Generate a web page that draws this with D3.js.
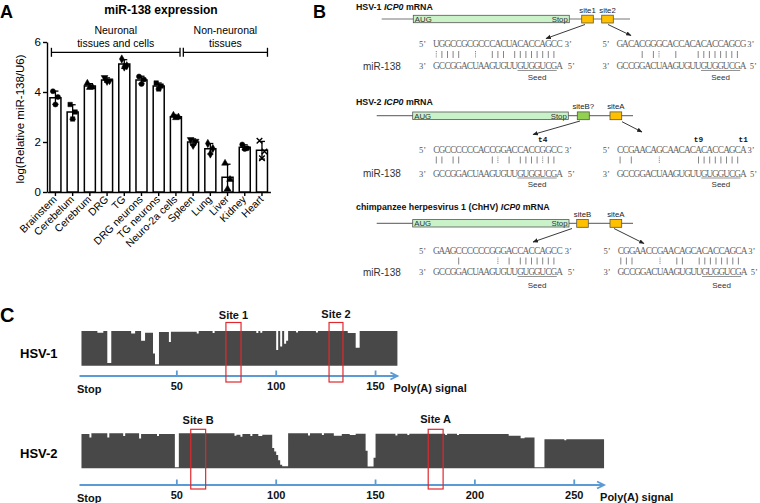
<!DOCTYPE html>
<html><head><meta charset="utf-8">
<script src="https://cdn.jsdelivr.net/npm/d3@7"></script>
<style>body{margin:0;background:#fff}svg{display:block}</style>
</head><body>
<script>
// ---------- Panel A data ----------
const tissues = ["Brainstem","Cerebelum","Cerebrum","DRG","TG","DRG neurons","TG neurons","Neuro-2a cells","Spleen","Lung","Liver","Kidney","Heart"];
const meanExpr = [3.77,3.2,4.24,4.48,5.12,4.48,4.24,3.01,2.0,1.73,0.59,1.79,1.67];
const replicates = [[4.03,3.8,3.5],[3.5,3.2,2.92],[4.35,4.2,4.18],[4.58,4.45,4.42],[5.32,5.05,5.0],[4.62,4.5,4.32],[4.36,4.24,4.12],[3.07,3.0,2.97],[2.1,2.03,1.86],[1.94,1.74,1.52],[1.15,0.5,0.12],[1.9,1.75,1.72],[2.05,1.62,1.35]];
const yTicksA = [0,2,4,6];
const groupLabels = [["Neuronal","tissues and cells"],["Non-neuronal","tissues"]];
const groupSpans = [["Brainstem","Neuro-2a cells"],["Spleen","Heart"]];

// ---------- Panel B data ----------
const transcripts = ["HSV-1","HSV-2","chimpanzee herpesvirus 1 (ChHV)"];
const siteNames = [["site1","site2"],["siteB?","siteA"],["siteB","siteA"]];
const mir138 = "GCCGGACUAAGUGUUGUGGUCGA";
const seedIdx = [15,21];
const targetSeqs = [
  ["UGGCCGCGCCCACUACACCAGCC","GACACGGGCACCACACACCAGCG"],
  ["CGCCCCCCACCGGACCACCGGCC","CCGAACAGCAACACACACCAGCA"],
  ["GAAGCCCCCCGGGACCACCAGCC","CGGAACCGAACAGCACACCAGCA"]
];
const pairings = [
  [":||||  :  ||| |||||||| ","    | |:  |   |||||||| "],
  ["|| ||     |: | ||||:|| ","| |    :      |||||||| "],
  ["    |      : | ||||||| ","|||    :  ||  |||||||| "]
];
const tLabels = [[],[[["t4",19]],[["t9",14],["t1",22]]],[]];

// ---------- Panel C data ----------
const hsv1Length = 161, hsv2Length = 265;
const hsv1Ticks = [50,100,150], hsv2Ticks = [50,100,150,200,250];
const hsv1Sites = ["Site 1","Site 2"], hsv1SiteWin = [[74.7,82.3],[126.6,133.6]];
const hsv2Sites = ["Site B","Site A"], hsv2SiteWin = [[57,64.5],[176.5,184]];
const hsv1Coverage = [[2,10,1],[10,13,0.95],[13,15,1],[15,17,0.08],[17,27,1],[27,29,0.93],[29,32,1],[32,34,0.72],[34,38,0.95],[38,39,0.35],[39,41,0.04],[41,46,0.97],[46,47,0.68],[47,60,0.98],[60,61,0.93],[61,68,1],[68,69,0.94],[69,90,1],[90,91,0.94],[91,92,1],[92,93,0.95],[93,100,1],[100,101,0.45],[101,102,1],[102,103,0.55],[103,104,1],[104,105,0.63],[105,106,0.72],[106,110,1],[110,111,0.96],[111,120,1],[120,121,0.96],[121,136,1],[136,140,0.94],[140,142,0.52],[142,161,1]];
const hsv2Coverage = [[2,6,0.98],[6,7,0.88],[7,15,1],[15,16,0.88],[16,23,1],[23,24,0.92],[24,31,1],[31,32,0.85],[32,40,0.98],[40,41,0.92],[41,49,0.98],[49,51,0.03],[51,79,1],[79,80,0.93],[80,82,0.96],[82,83,0.9],[83,87,0.98],[87,88,0.92],[88,91,0.98],[91,93,0.92],[93,98,0.96],[98,99,0.58],[99,100,0.48],[100,101,0.38],[101,102,0.23],[102,103,0.1],[103,106,0.06],[106,116,1],[116,117,0.94],[117,123,1],[123,124,0.95],[124,129,1],[129,133,0.93],[133,137,0.98],[137,140,0.95],[140,145,0.99],[145,146,0.5],[146,149,0.05],[149,150,0.3],[150,160,0.99],[160,161,0.94],[161,166,0.99],[166,167,0.95],[167,185,0.99],[185,186,0.95],[186,191,0.99],[191,192,0.95],[192,217,0.98],[217,223,0.93],[223,225,0.86],[225,230,0.88],[230,235,0.03],[235,245,0.83],[245,246,0.8],[246,265,0.83]];

// ================= drawing =================
const W=760,H=503;
const SANS="'Liberation Sans',Arial,sans-serif";
const svg=d3.select("body").append("svg").attr("width",W).attr("height",H).style("font-family",SANS);
svg.append("rect").attr("width",W).attr("height",H).attr("fill","#fff");

[["A",0,18,18],["B",313,18,18],["C",0,322,20]].forEach(([t,x,y,s])=>{
  svg.append("text").attr("x",x).attr("y",y).attr("font-size",s).attr("font-weight","bold").text(t);
});

// ---------- Panel A ----------
const gA=svg.append("g");
const yA=d3.scaleLinear().domain([0,6]).range([192,42]);
const xA=d3.scaleBand().domain(tissues).range([47,270.4]).paddingInner(0.36).paddingOuter(0.17);
const bw=xA.bandwidth();
gA.append("text").attr("x",161).attr("y",14).attr("text-anchor","middle").attr("font-size",12).attr("font-weight","bold").text("miR-138 expression");
gA.append("text").attr("transform","translate(24,119) rotate(-90)").attr("text-anchor","middle").attr("font-size",11.5).text("log(Relative miR-138/U6)");

const yAxis=gA.append("g").attr("transform","translate(47,0)").call(d3.axisLeft(yA).tickValues(yTicksA).tickFormat(d3.format("d")).tickSize(4).tickSizeOuter(0).tickPadding(2));
yAxis.selectAll("path,line").attr("stroke","#000").attr("stroke-width",1.4);
yAxis.selectAll("text").attr("font-size",11.5).attr("font-family",SANS).attr("fill","#000");
const xAxis=gA.append("g").attr("transform","translate(0,192)").call(d3.axisBottom(xA).tickSize(4).tickSizeOuter(0).tickFormat(""));
xAxis.selectAll("path,line").attr("stroke","#000").attr("stroke-width",1.4);
tissues.forEach(t=>{
  gA.append("text").attr("transform",`translate(${xA(t)+bw/2+2},200) rotate(-45)`).attr("text-anchor","end").attr("font-size",10.5).text(t);
});
gA.selectAll("rect.bar").data(tissues).join("rect").attr("class","bar")
  .attr("x",d=>xA(d)).attr("width",bw).attr("y",(d,i)=>yA(meanExpr[i])).attr("height",(d,i)=>yA(0)-yA(meanExpr[i]))
  .attr("fill","#fff").attr("stroke","#000").attr("stroke-width",1.5);
const symTypes=[d3.symbolCircle,d3.symbolSquare,d3.symbolTriangle,"tdown",d3.symbolDiamond,d3.symbolCircle,d3.symbolSquare,d3.symbolTriangle,"tdown",d3.symbolDiamond,d3.symbolTriangle,d3.symbolCircle,d3.symbolTimes];
const jit=[-2.5,2.5,0];
tissues.forEach((t,i)=>{
  const cx=xA(t)+bw/2, vals=replicates[i], m=meanExpr[i], sd=d3.deviation(vals);
  const g=gA.append("g");
  g.append("line").attr("x1",cx).attr("x2",cx).attr("y1",yA(Math.max(0,m-sd))).attr("y2",yA(m+sd)).attr("stroke","#000").attr("stroke-width",1.3);
  [m+sd, m-sd].forEach(v=>{ if(v>0) g.append("line").attr("x1",cx-3).attr("x2",cx+3).attr("y1",yA(v)).attr("y2",yA(v)).attr("stroke","#000").attr("stroke-width",1.3);});
  vals.forEach((v,j)=>{
    const st=symTypes[i];
    const isT=st==="tdown", isX=st===d3.symbolTimes;
    const p=d3.symbol().type(isT?d3.symbolTriangle:st).size(isX?22:20)();
    g.append("path").attr("d",p).attr("transform",`translate(${cx+jit[j]},${yA(v)})${isT?" rotate(180)":""}`)
      .attr("fill",isX?"none":"#000").attr("stroke","#000").attr("stroke-width",isX?1.4:0.5);
  });
});
// group brackets
const brY=52.3;
const b1s=xA(groupSpans[0][0])+1.5, b1e=xA(groupSpans[0][1])+bw-1.4;
const b2s=b1e+3.3, b2e=xA(groupSpans[1][1])+bw;
gA.append("line").attr("x1",b1s).attr("x2",b1e).attr("y1",brY).attr("y2",brY).attr("stroke","#000").attr("stroke-width",1.3);
gA.append("line").attr("x1",b2s).attr("x2",b2e).attr("y1",brY).attr("y2",brY).attr("stroke","#000").attr("stroke-width",1.3);
[b1s,b1e,b2s,b2e].forEach(x=>gA.append("line").attr("x1",x).attr("x2",x).attr("y1",brY-4.5).attr("y2",brY+4.5).attr("stroke","#000").attr("stroke-width",1.3));
[[ (b1s+b1e)/2, groupLabels[0]],[ (b2s+b2e)/2, groupLabels[1]]].forEach(([cx,lab])=>{
  gA.append("text").attr("x",cx).attr("y",34).attr("text-anchor","middle").attr("font-size",10.5).text(lab[0]);
  gA.append("text").attr("x",cx).attr("y",46.5).attr("text-anchor","middle").attr("font-size",10.5).text(lab[1]);
});

// ---------- Panel B ----------
const gB=svg.append("g");
const SERIF="'Liberation Serif','Times New Roman',serif";
const pitch=5.6;
const layouts=[
  {titleY:9.5,lineY:19,lineX:[381.7,630],gene:[413.3,569.3],sites:[[581.7,593.3],[601.7,613.3]],siteCol:["#ffc000","#ffc000"],
   arrows:[[[585,24.5],[546,38.5]],[[608,24.5],[631,35.5]]],rows:[43.5,54.5,66,76.5],x0:[433.5,617],tY:0},
  {titleY:104.5,lineY:115.7,lineX:[376.7,633],gene:[412.7,568.3],sites:[[577.3,589.3],[610,621.7]],siteCol:["#92d050","#ffc000"],
   arrows:[[[580,121],[533,134.5]],[[622,121.7],[642,132]]],rows:[149.5,160,173.5,184],x0:[433.5,617.3],tY:139.5},
  {titleY:210,lineY:223.3,lineX:[376.7,633],gene:[412.7,569],sites:[[576.7,588.3],[610,621.7]],siteCol:["#ffc000","#ffc000"],
   arrows:[[[572,228.5],[533,242]],[[614,228.5],[644,243.5]]],rows:[250.5,261,272,285],x0:[433.5,618],tY:0}
];
gB.append("defs").append("marker").attr("id","ah").attr("viewBox","0 0 10 10").attr("refX",9).attr("refY",5)
  .attr("markerWidth",6).attr("markerHeight",6).attr("orient","auto").append("path").attr("d","M0,1L10,5L0,9z").attr("fill","#222");
transcripts.forEach((name,k)=>{
  const L=layouts[k];
  const tt=gB.append("text").attr("x",356).attr("y",L.titleY).attr("font-size",8.8).attr("font-weight","bold").attr("fill","#111");
  tt.append("tspan").text(name+" ");
  tt.append("tspan").attr("font-style","italic").text("ICP0");
  tt.append("tspan").text(" mRNA");
  gB.append("line").attr("x1",L.lineX[0]).attr("x2",L.lineX[1]).attr("y1",L.lineY).attr("y2",L.lineY).attr("stroke","#777").attr("stroke-width",1.2);
  gB.append("rect").attr("x",L.gene[0]).attr("y",L.lineY-3.7).attr("width",L.gene[1]-L.gene[0]).attr("height",7.4)
    .attr("fill","#c9f2c9").attr("stroke","#555").attr("stroke-width",0.8);
  gB.append("text").attr("x",L.gene[0]+1.5).attr("y",L.lineY+3).attr("font-size",7.8).attr("fill","#333").text("AUG");
  gB.append("text").attr("x",L.gene[1]-1.5).attr("y",L.lineY+3).attr("text-anchor","end").attr("font-size",7.8).attr("fill","#333").text("Stop");
  L.sites.forEach((s,j)=>{
    gB.append("rect").attr("x",s[0]).attr("y",L.lineY-3.8).attr("width",s[1]-s[0]).attr("height",7.8)
      .attr("fill",L.siteCol[j]).attr("stroke","#555").attr("stroke-width",0.8);
    gB.append("text").attr("x",(s[0]+s[1])/2).attr("y",L.lineY-6.5).attr("text-anchor","middle").attr("font-size",7.8).attr("fill","#222").text(siteNames[k][j]);
  });
  L.arrows.forEach(a=>gB.append("line").attr("x1",a[0][0]).attr("y1",a[0][1]).attr("x2",a[1][0]).attr("y2",a[1][1])
     .attr("stroke","#222").attr("stroke-width",0.9).attr("marker-end","url(#ah)"));
  gB.append("text").attr("x",363).attr("y",L.rows[2]+3.5).attr("font-size",10).attr("fill","#333").text("miR-138");
  [0,1].forEach(j=>{
    const x0=L.x0[j], seq=targetSeqs[k][j], pr=pairings[k][j];
    const endX=x0+23*pitch;
    const tr=L.rows[0]+3.2, mr=L.rows[2]+3.2;
    gB.append("text").attr("x",x0-11).attr("y",tr).attr("text-anchor","middle").attr("font-size",8.5).attr("font-family",SERIF).attr("fill","#555").text("5\u2019");
    gB.append("text").attr("x",endX+(j?5:6)).attr("y",tr).attr("text-anchor","middle").attr("font-size",8.5).attr("font-family",SERIF).attr("fill","#555").text("3\u2019");
    gB.append("text").attr("x",x0-11).attr("y",mr).attr("text-anchor","middle").attr("font-size",8.5).attr("font-family",SERIF).attr("fill","#555").text("3\u2019");
    gB.append("text").attr("x",endX+(j?7.5:9)).attr("y",mr).attr("text-anchor","middle").attr("font-size",8.5).attr("font-family",SERIF).attr("fill","#555").text("5\u2019");
    seq.split("").forEach((c,i)=>gB.append("text").attr("x",x0+(i+0.5)*pitch).attr("y",tr).attr("text-anchor","middle")
      .attr("font-size",9.3).attr("font-family",SERIF).attr("fill","#666").text(c));
    mir138.split("").forEach((c,i)=>gB.append("text").attr("x",x0+(i+0.5)*pitch).attr("y",mr).attr("text-anchor","middle")
      .attr("font-size",9.3).attr("font-family",SERIF).attr("fill","#666").text(c));
    pr.split("").forEach((c,i)=>{
      if(c===" ") return;
      const cx=x0+(i+0.5)*pitch;
      gB.append("line").attr("x1",cx).attr("x2",cx).attr("y1",L.rows[1]-3.5).attr("y2",L.rows[1]+3.5)
        .attr("stroke","#666").attr("stroke-width",0.8).attr("stroke-dasharray",c===":"?"1,0.8":null);
    });
    gB.append("line").attr("x1",x0+seedIdx[0]*pitch).attr("x2",x0+(seedIdx[1]+1)*pitch).attr("y1",mr+1.3).attr("y2",mr+1.3).attr("stroke","#666").attr("stroke-width",0.7);
    gB.append("text").attr("x",x0+(seedIdx[0]+seedIdx[1]+1)/2*pitch).attr("y",L.rows[3]+3).attr("text-anchor","middle").attr("font-size",8).attr("fill","#333").text("Seed");
    (tLabels[k][j]||[]).forEach(([lab,idx])=>gB.append("text").attr("x",x0+(idx+0.5)*pitch).attr("y",L.tY+2.5).attr("text-anchor","middle")
      .attr("font-size",7.8).attr("font-weight","bold").attr("font-family","'Liberation Mono',monospace").attr("fill","#111").text(lab));
  });
});

// ---------- Panel C ----------
const gC=svg.append("g");
const xC=d3.scaleLinear().domain([0,265]).range([77.5,77.5+265*1.987]);
const BLUE="#5b9bd5";
function coverageTrack(cfg){
  const y=d3.scaleLinear().domain([0,1]).range([cfg.bottom,cfg.top]);
  const pts=cfg.cov.map(s=>({p:s[0],v:s[2]}));
  const last=cfg.cov[cfg.cov.length-1]; pts.push({p:last[1],v:last[2]});
  gC.append("path").datum(pts).attr("d",d3.area().x(d=>xC(d.p)).y0(cfg.bottom).y1(d=>y(d.v)).curve(d3.curveStepAfter)).attr("fill","#484848");
  gC.append("text").attr("x",20).attr("y",cfg.labelY).attr("font-size",13).attr("font-weight","bold").text(cfg.name);
  const ay=cfg.axisY, x1=xC(1), x2=xC(cfg.len);
  gC.append("line").attr("x1",x1).attr("x2",x2).attr("y1",ay).attr("y2",ay).attr("stroke",BLUE).attr("stroke-width",2);
  gC.append("path").attr("d",`M${x2-7},${ay-3.5}L${x2},${ay}L${x2-7},${ay+3.5}`).attr("fill","none").attr("stroke",BLUE).attr("stroke-width",1.8);
  cfg.ticks.forEach(t=>{
    gC.append("line").attr("x1",xC(t)).attr("x2",xC(t)).attr("y1",ay).attr("y2",ay-5.5).attr("stroke",BLUE).attr("stroke-width",1.8);
    gC.append("text").attr("x",xC(t)).attr("y",cfg.tickY).attr("text-anchor","middle").attr("font-size",11).attr("font-weight","bold").attr("fill","#111").text(t);
  });
  gC.append("text").attr("x",xC(0)-0.5).attr("y",cfg.tickY+2.5).attr("font-size",11).attr("font-weight","bold").attr("fill","#111").text("Stop");
  gC.append("text").attr("x",x2-4).attr("y",cfg.tickY+1.5).attr("font-size",11).attr("font-weight","bold").attr("fill","#111").text("Poly(A) signal");
  cfg.sites.forEach((s,i)=>{
    const w=cfg.win[i];
    gC.append("rect").attr("x",xC(w[0])).attr("y",cfg.siteTop).attr("width",xC(w[1])-xC(w[0])).attr("height",cfg.siteBot-cfg.siteTop)
      .attr("fill","none").attr("stroke","#e0282e").attr("stroke-width",1.2);
    gC.append("text").attr("x",(xC(w[0])+xC(w[1]))/2).attr("y",cfg.siteLabelY[i]).attr("text-anchor","middle").attr("font-size",11).attr("font-weight","bold").attr("fill","#111").text(s);
  });
}
coverageTrack({name:"HSV-1",cov:hsv1Coverage,len:hsv1Length,ticks:hsv1Ticks,sites:hsv1Sites,win:hsv1SiteWin,
  top:331,bottom:365.7,labelY:358,axisY:376,tickY:390,siteTop:322.5,siteBot:382,siteLabelY:[319,317.5]});
coverageTrack({name:"HSV-2",cov:hsv2Coverage,len:hsv2Length,ticks:hsv2Ticks,sites:hsv2Sites,win:hsv2SiteWin,
  top:433.3,bottom:468.3,labelY:458.3,axisY:485,tickY:499,siteTop:429.3,siteBot:489,siteLabelY:[424,423]});
</script>
</body></html>
